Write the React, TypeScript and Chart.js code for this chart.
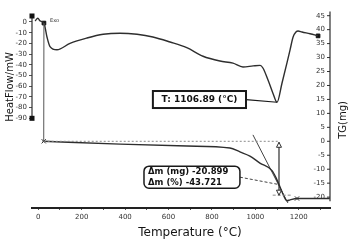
import React, { useEffect, useRef } from "react";
import { Chart, registerables } from "chart.js";

Chart.register(...registerables);

// ---- data ----
const dscTemp = [-15, -2, 8, 26, 40, 54, 86, 146, 224, 299, 376, 455, 528, 607, 684, 759, 837, 897, 943, 990, 1022, 1035, 1058, 1081, 1100, 1123, 1146, 1160, 1174, 1187, 1197, 1215, 1252, 1289];
const dscHeatFlow = [1, 3.5, 1, -1, -14, -23, -26, -20, -15, -11.5, -10.5, -11.5, -14, -18.7, -24, -32, -36.5, -38.5, -42, -41, -40.5, -43, -54, -66.5, -75, -57, -38, -26, -14, -9.4, -8.4, -9.4, -11, -13];

const tgTemp = [20, 377, 685, 883, 929, 975, 1021, 1077, 1095, 1109, 1125, 1145, 1160, 1190, 1250, 1343];
const tgMass = [0, -1.0, -1.7, -2.4, -3.8, -5.3, -7.8, -10.5, -13, -15.5, -18.5, -21.3, -21, -20.5, -20.5, -20.5];

const tangentTemp = [989, 1150];
const tangentMass = [2.3, -22.1];

const dscMarkerTemp = [26, 1289];
const dscMarkerFlow = [-1, -13];
const tgMarkerTemp = [25, 1192];
const tgMarkerMass = [0, -20.5];

const xTickValues = [0, 100, 200, 300, 400, 500, 600, 700, 800, 900, 1000, 1100, 1200, 1300];
const xLabelValues = [0, 200, 400, 600, 800, 1000, 1200];
const heatFlowTicks = [0, -10, -20, -30, -40, -50, -60, -70, -80, -90];
const tgTicks = [45, 40, 35, 30, 25, 20, 15, 10, 5, 0, -5, -10, -15, -20];

const peakLabel = "T: 1106.89 (°C)";
const massLossLines = ["Δm (mg) -20.899", "Δm (%) -43.721"];
const xTitle = "Temperature (°C)";
const yTitle = "HeatFlow/mW";
const y2Title = "TG(mg)";
const exoLabel = "Exo";

// annotation anchors (data units)
const peakTemp = 1100;
const peakFlow = -75;
const stepTemp = 1109;
const stepTop = 0;
const stepBottom = -19.3;
const stepCross = -15.5;

const INK = "#2e2e2e";
const FONT = "DejaVu Sans";

const annotations = {
  id: "annotations",
  afterDatasetsDraw(chart: any) {
    const { ctx, chartArea, scales } = chart;
    const x = scales.x;
    const y = scales.y;
    const y2 = scales.y2;
    const X = (v: number) => x.getPixelForValue(v);
    const Y = (v: number) => y.getPixelForValue(v);
    const Y2 = (v: number) => y2.getPixelForValue(v);
    const line = (x0: number, y0: number, x1: number, y1: number) => {
      ctx.beginPath();
      ctx.moveTo(x0, y0);
      ctx.lineTo(x1, y1);
      ctx.stroke();
    };
    ctx.save();

    // left axis line with end squares
    ctx.strokeStyle = INK;
    ctx.fillStyle = "#111";
    ctx.lineWidth = 1.2;
    const lx = chartArea.left;
    line(lx, Y(5.6), lx, Y(-90));
    ctx.fillRect(lx - 2.5, Y(5.6) - 2.5, 5, 5);
    ctx.fillRect(lx - 2.5, Y(-90) - 2.5, 5, 5);

    // right axis line with inward ticks
    const rx = chartArea.right;
    line(rx, Y2(46.5), rx, Y2(-21.5));
    ctx.lineWidth = 1;
    for (const v of tgTicks) line(rx - 3, Y2(v), rx, Y2(v));

    // vertical line from DSC start to TG start
    ctx.strokeStyle = "#555";
    ctx.lineWidth = 1;
    line(X(dscMarkerTemp[0]), Y(dscMarkerFlow[0]), X(tgMarkerTemp[0]), Y2(tgMarkerMass[0]));

    // dotted reference levels
    ctx.setLineDash([2, 2]);
    ctx.strokeStyle = "#8a8a8a";
    line(X(tgMarkerTemp[0]), Y2(stepTop), X(stepTemp), Y2(stepTop));
    ctx.setLineDash([3, 2]);
    line(X(1080), Y2(stepBottom), X(1170), Y2(stepBottom));
    ctx.setLineDash([]);

    // step arrow
    ctx.strokeStyle = INK;
    ctx.lineWidth = 1.2;
    const ax = X(stepTemp);
    const at = Y2(stepTop) + 1;
    const ab = Y2(stepBottom);
    line(ax, at, ax, ab);
    ctx.fillStyle = "#fff";
    ctx.lineWidth = 1;
    ctx.beginPath();
    ctx.moveTo(ax, at);
    ctx.lineTo(ax - 2.5, at + 5);
    ctx.lineTo(ax + 2.5, at + 5);
    ctx.closePath();
    ctx.fill();
    ctx.stroke();
    ctx.beginPath();
    ctx.moveTo(ax, ab);
    ctx.lineTo(ax - 2.5, ab - 5);
    ctx.lineTo(ax + 2.5, ab - 5);
    ctx.closePath();
    ctx.fill();
    ctx.stroke();

    // peak temperature box
    const bx0 = X(528), bx1 = X(957);
    const by0 = Y(-64.5), by1 = Y(-80.4);
    ctx.strokeStyle = "#1a1a1a";
    ctx.lineWidth = 1.2;
    line(bx1, (by0 + by1) / 2, X(peakTemp), Y(peakFlow));
    ctx.fillStyle = "#fff";
    ctx.fillRect(bx0, by0, bx1 - bx0, by1 - by0);
    ctx.lineWidth = 2;
    ctx.strokeRect(bx0, by0, bx1 - bx0, by1 - by0);
    ctx.fillStyle = "#111";
    ctx.font = `bold 9px "${FONT}"`;
    ctx.textAlign = "center";
    ctx.textBaseline = "middle";
    ctx.fillText(peakLabel, (bx0 + bx1) / 2, (by0 + by1) / 2 + 0.5);

    // mass loss box
    const mx0 = X(487), mx1 = X(929);
    const my0 = Y2(-8.9), my1 = Y2(-16.8);
    ctx.strokeStyle = "#444";
    ctx.lineWidth = 1;
    ctx.setLineDash([3, 2]);
    line(mx1, (my0 + my1) / 2, ax, Y2(stepCross));
    ctx.setLineDash([]);
    ctx.fillStyle = "#fff";
    ctx.strokeStyle = "#1a1a1a";
    ctx.lineWidth = 1.5;
    ctx.beginPath();
    (ctx as any).roundRect(mx0, my0, mx1 - mx0, my1 - my0, 5);
    ctx.fill();
    ctx.stroke();
    ctx.fillStyle = "#111";
    ctx.font = `bold 8.5px "${FONT}"`;
    ctx.textAlign = "left";
    const mh = my1 - my0;
    ctx.fillText(massLossLines[0], mx0 + 4, my0 + mh * 0.27);
    ctx.fillText(massLossLines[1], mx0 + 4, my0 + mh * 0.74);

    // Exo tag
    ctx.font = `5px "${FONT}"`;
    ctx.fillStyle = "#333";
    ctx.fillText(exoLabel, X(54), Y(1));

    // axis titles
    ctx.fillStyle = "#151515";
    ctx.textAlign = "center";
    ctx.font = `12px "${FONT}"`;
    ctx.fillText(xTitle, 190, 233);
    ctx.font = `10px "${FONT}"`;
    ctx.save();
    ctx.translate(10, 87);
    ctx.rotate(-Math.PI / 2);
    ctx.fillText(yTitle, 0, 0);
    ctx.restore();
    ctx.save();
    ctx.translate(343, 120);
    ctx.rotate(-Math.PI / 2);
    ctx.fillText(y2Title, 0, 0);
    ctx.restore();

    ctx.restore();
  },
};

export default function App() {
  const ref = useRef<HTMLCanvasElement | null>(null);

  useEffect(() => {
    if (!ref.current) return;
    const chart = new Chart(ref.current, {
      type: "line",
      data: {
        datasets: [
          {
            label: "DSC",
            data: dscTemp.map((t, i) => ({ x: t, y: dscHeatFlow[i] })),
            yAxisID: "y",
            borderColor: INK,
            borderWidth: 1.4,
            pointRadius: 0,
            cubicInterpolationMode: "monotone",
            fill: false,
          },
          {
            label: "TG",
            data: tgTemp.map((t, i) => ({ x: t, y: tgMass[i] })),
            yAxisID: "y2",
            borderColor: INK,
            borderWidth: 1.4,
            pointRadius: 0,
            cubicInterpolationMode: "monotone",
            fill: false,
          },
          {
            label: "tangent",
            data: tangentTemp.map((t, i) => ({ x: t, y: tangentMass[i] })),
            yAxisID: "y2",
            borderColor: "#444",
            borderWidth: 1,
            pointRadius: 0,
            tension: 0,
            fill: false,
          },
          {
            label: "dsc markers",
            data: dscMarkerTemp.map((t, i) => ({ x: t, y: dscMarkerFlow[i] })),
            yAxisID: "y",
            showLine: false,
            pointStyle: "rect",
            pointRadius: 2.6,
            backgroundColor: "#111",
            borderColor: "#111",
          },
          {
            label: "tg markers",
            data: tgMarkerTemp.map((t, i) => ({ x: t, y: tgMarkerMass[i] })),
            yAxisID: "y2",
            showLine: false,
            pointStyle: "crossRot",
            pointRadius: 3,
            borderWidth: 1,
            borderColor: "#333",
          },
        ],
      },
      options: {
        responsive: false,
        animation: false,
        layout: { padding: { top: 10, left: 0, right: 0, bottom: 0 } },
        plugins: { legend: { display: false }, tooltip: { enabled: false } },
        scales: {
          x: {
            type: "linear",
            position: "bottom",
            min: -29,
            max: 1344,
            afterBuildTicks: (s: any) => {
              s.ticks = xTickValues.map((v) => ({ value: v }));
            },
            afterFit: (s: any) => {
              s.height = 32;
              s.paddingLeft = 0;
              s.paddingRight = 0;
            },
            ticks: {
              autoSkip: false,
              maxRotation: 0,
              padding: 3,
              color: "#333",
              font: { family: FONT, size: 7 },
              callback: (v: any) => (xLabelValues.includes(Number(v)) ? String(v) : ""),
            },
            grid: { display: true, drawOnChartArea: false, drawTicks: true, tickLength: 2, color: "#555" },
            border: { display: true, width: 2, color: "#222" },
          },
          y: {
            type: "linear",
            position: "left",
            min: -173.8,
            max: 11.2,
            afterBuildTicks: (s: any) => {
              s.ticks = heatFlowTicks.map((v) => ({ value: v }));
            },
            afterFit: (s: any) => {
              s.width = 32;
              s.paddingTop = 0;
              s.paddingBottom = 0;
            },
            ticks: {
              autoSkip: false,
              padding: 2,
              color: "#333",
              font: { family: FONT, size: 7 },
              callback: (v: any) => String(v),
            },
            grid: { display: true, drawOnChartArea: false, drawTicks: true, tickLength: 3, color: "#555" },
            border: { display: false },
          },
          y2: {
            type: "linear",
            position: "right",
            min: -23.9,
            max: 47.04,
            afterBuildTicks: (s: any) => {
              s.ticks = tgTicks.map((v) => ({ value: v }));
            },
            afterFit: (s: any) => {
              s.width = 20;
              s.paddingTop = 0;
              s.paddingBottom = 0;
            },
            ticks: {
              autoSkip: false,
              mirror: true,
              padding: -5,
              color: "#333",
              font: { family: FONT, size: 7 },
              callback: (v: any) => String(v),
            },
            grid: { display: false },
            border: { display: false },
          },
        },
      } as any,
      plugins: [annotations],
    });
    return () => chart.destroy();
  }, []);

  return (
    <div style={{ position: "absolute", left: 0, top: 0, width: 350, height: 240, background: "#fff" }}>
      <canvas ref={ref} width={350} height={240} style={{ display: "block" }} />
    </div>
  );
}
